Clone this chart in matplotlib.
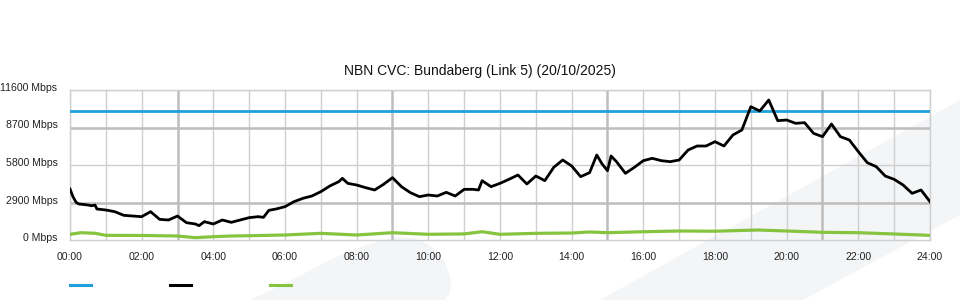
import matplotlib
matplotlib.use("Agg")
import matplotlib.pyplot as plt
from matplotlib.patches import Polygon
import numpy as np

title = "NBN CVC: Bundaberg (Link 5) (20/10/2025)"
y_ticks = [0, 2900, 5800, 8700, 11600]
y_labels = ["0 Mbps", "2900 Mbps", "5800 Mbps", "8700 Mbps", "11600 Mbps"]
x_ticks = [0, 2, 4, 6, 8, 10, 12, 14, 16, 18, 20, 22, 24]
x_labels = ["00:00", "02:00", "04:00", "06:00", "08:00", "10:00", "12:00",
            "14:00", "16:00", "18:00", "20:00", "22:00", "24:00"]

capacity = 10000

traffic_t = [0, 0.083, 0.17, 0.25, 0.5, 0.6, 0.7, 0.75, 1.0, 1.25, 1.5, 1.75, 2.0,
             2.25, 2.5, 2.75, 3.0, 3.25, 3.5, 3.6, 3.75, 4.0, 4.25, 4.5, 4.75,
             5.0, 5.25, 5.4, 5.55, 5.75, 6.0, 6.25, 6.5, 6.75, 7.0, 7.25, 7.5,
             7.6, 7.75, 8.0, 8.25, 8.5, 8.75, 9.0, 9.25, 9.5, 9.75, 10.0, 10.25,
             10.5, 10.75, 11.0, 11.25, 11.4, 11.5, 11.75, 12.0, 12.25, 12.5,
             12.75, 13.0, 13.25, 13.5, 13.75, 14.0, 14.25, 14.5, 14.7, 14.85,
             15.0, 15.1, 15.25, 15.5, 15.75, 16.0, 16.25, 16.5, 16.75, 17.0,
             17.25, 17.5, 17.75, 18.0, 18.25, 18.5, 18.75, 19.0, 19.25, 19.5,
             19.75, 20.0, 20.25, 20.5, 20.75, 21.0, 21.25, 21.5, 21.75, 22.0,
             22.25, 22.5, 22.75, 23.0, 23.25, 23.5, 23.75, 24.0]
traffic_v = [3944, 3351, 2913, 2784, 2707, 2650, 2700, 2397, 2320, 2191, 1907, 1856, 1804,
             2191, 1598, 1547, 1856, 1340, 1237, 1108, 1418, 1237, 1547, 1366, 1547,
             1727, 1804, 1753, 2294, 2397, 2578, 2964, 3222, 3403, 3738, 4176, 4511,
             4769, 4382, 4253, 4047, 3867, 4305, 4820, 4124, 3660, 3351, 3480, 3403,
             3686, 3403, 3918, 3918, 3867, 4588, 4124, 4382, 4691, 5027,
             4331, 4949, 4588, 5620, 6187, 5723, 4898, 5207, 6573, 5877,
             5361, 6496, 6058, 5155, 5620, 6135, 6316, 6135, 6058, 6187,
             6960, 7269, 7269, 7604, 7269, 8120, 8507, 10310, 9976, 10826,
             9228, 9280, 9022, 9074, 8249, 7991, 8970, 7991, 7733, 6831,
             5980, 5671, 4949, 4691, 4253, 3609, 3867, 2964]

green_t = [0, 0.3, 0.7, 1, 2, 3, 3.5, 4, 4.5, 5, 6, 7, 8, 9, 10, 11, 11.5, 12,
           13, 14, 14.5, 15, 16, 17, 18, 19.2, 20, 21, 22, 23, 24]
green_v = [440, 565, 520, 360, 350, 310, 180, 255, 310, 330, 387, 515, 387, 565,
           440, 470, 640, 440, 515, 540, 620, 565, 640, 696, 680, 773, 696, 593,
           565, 464, 360]

plt.rcParams['font.family'] = ['Liberation Sans', 'DejaVu Sans']

W, H = 960, 300
fig = plt.figure(figsize=(W / 100, H / 100), dpi=100)
fig.patch.set_facecolor("white")

def px(x, y):
    return (x / W, 1 - y / H)

bg = "#f4f5f7"
stripe = Polygon([px(600, 300), px(960, 100), px(960, 215), px(803, 300)],
                 closed=True, transform=fig.transFigure, facecolor=bg,
                 edgecolor="none", zorder=-5)
fig.patches.append(stripe)
blob_pts = [(250, 300), (290, 281), (330, 260), (365, 245), (395, 237), (415, 238),
            (432, 247), (445, 262), (451, 280), (450, 293), (445, 300)]
blob = Polygon([px(x, y) for x, y in blob_pts], closed=True,
               transform=fig.transFigure, facecolor=bg, edgecolor="none", zorder=-5)
fig.patches.append(blob)

left, right, top, bottom = 70, 930, 90, 240
ax = fig.add_axes([left / W, 1 - bottom / H, (right - left) / W, (bottom - top) / H])
ax.set_facecolor("none")
ax.set_xlim(0, 24)
ax.set_ylim(0, 11600)

# grid
for h in range(25):
    strong = h % 6 == 3
    ax.axvline(h, color="#bdbdbd" if strong else "#cfcfcf",
               lw=1.8 if strong else 1.0, zorder=1)
for v in [2900, 5800, 8700, 11600]:
    strong = v in (2900, 8700)
    ax.axhline(v, color="#bdbdbd" if strong else "#cfcfcf",
               lw=1.8 if strong else 1.0, zorder=1)
for s in ax.spines.values():
    s.set_color("#cfcfcf")
    s.set_linewidth(1.0)

ax.plot([0, 24], [capacity, capacity], color="#1ea1dc", lw=2.0, zorder=3)
ax.plot(green_t, green_v, color="#86c440", lw=2.3, zorder=3)
ax.plot(traffic_t, traffic_v, color="#000000", lw=2.0, zorder=4)

ax.set_xticks(x_ticks)
ax.set_xticklabels(x_labels)
ax.set_yticks(y_ticks)
ax.set_yticklabels(y_labels)
ax.tick_params(axis="both", length=0, labelsize=7.6, colors="#222222")
ax.tick_params(axis="x", pad=9)
ax.tick_params(axis="y", pad=9)
for lab in ax.get_yticklabels():
    lab.set_verticalalignment("center")
    lab.set_y(lab.get_position()[1])
for t in ax.yaxis.get_major_ticks():
    t.label1.set_transform(t.label1.get_transform() +
                           matplotlib.transforms.ScaledTranslation(0, 2 / 100, fig.dpi_scale_trans))

fig.text(0.5, 1 - 71 / H, title, ha="center", va="center", fontsize=10, color="#111111")

for x0, col in [(70, "#1ea1dc"), (170, "#000000"), (270, "#86c440")]:
    fig.add_artist(plt.Line2D([x0 / W, (x0 + 21) / W], [1 - 285 / H, 1 - 285 / H],
                              color=col, lw=2.2, transform=fig.transFigure))

fig.savefig("out.png", dpi=100)
